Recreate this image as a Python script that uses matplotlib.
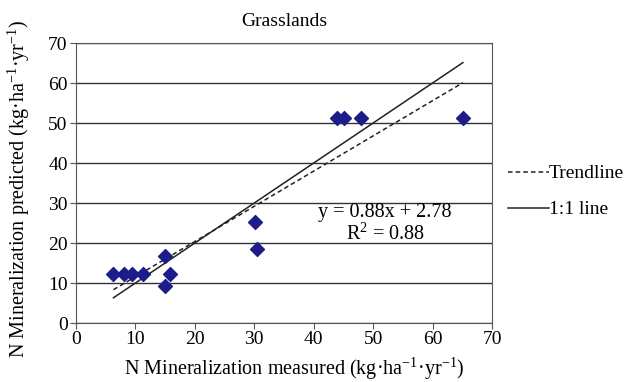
import matplotlib
matplotlib.use('Agg')
import numpy as np
import matplotlib.pyplot as plt

# measured vs predicted N mineralization (kg/ha/yr)
measured = [6.3, 8.0, 9.4, 11.3, 14.9, 14.9, 15.8, 30.1, 30.5, 43.9, 45.1, 48.0, 65.1]
predicted = [12.2, 12.2, 12.2, 12.2, 16.8, 9.2, 12.2, 25.3, 18.5, 51.2, 51.2, 51.2, 51.2]
slope = 0.88
intercept = 2.78
r2 = 0.88
x_ticks = [0, 10, 20, 30, 40, 50, 60, 70]
y_ticks = [0, 10, 20, 30, 40, 50, 60, 70]

plt.rcParams['font.family'] = ['Liberation Serif', 'DejaVu Serif']
plt.rcParams['mathtext.fontset'] = 'custom'
plt.rcParams['mathtext.rm'] = 'Liberation Serif'
plt.rcParams['font.size'] = 14

fig = plt.figure(figsize=(6.39, 3.82), dpi=100)
ax = fig.add_axes([76 / 639, 59 / 382, 416 / 639, 280 / 382])

xs = np.array([min(measured), max(measured)])
ax.plot(xs, slope * xs + intercept, color='#222222', linestyle=(0, (3, 2)), linewidth=1.1, label='Trendline')
ax.plot(xs, xs, color='#222222', linestyle='-', linewidth=1.1, label='1:1 line')
ax.scatter(measured, predicted, marker='D', s=50, color='#1c1c8a', zorder=3)

ax.set_xlim(0, 70)
ax.set_ylim(0, 70)
ax.set_xticks(x_ticks)
ax.set_yticks(y_ticks)
ax.yaxis.grid(True, color='#333333', linewidth=1.0)
ax.set_axisbelow(True)
for s in ax.spines.values():
    s.set_color('#555555')
ax.tick_params(direction='out', length=4, color='#555555', labelsize=14, pad=2)

ax.text(52, 27.7, 'y = 0.88x + 2.78', ha='center', va='center', fontsize=14.5)
ax.text(52, 22.4, 'R$^{2}$ = 0.88', ha='center', va='center', fontsize=14.5)

ax.set_title('Grasslands', fontsize=14, pad=12)
ax.set_xlabel('N Mineralization measured (kg·ha$^{-1}$·yr$^{-1}$)', fontsize=14.5, labelpad=2)
ax.xaxis.set_label_coords(0.525, -0.115)
ax.set_ylabel('N Mineralization predicted (kg·ha$^{-1}$·yr$^{-1}$)', fontsize=14.5)
ax.yaxis.set_label_coords(-0.105, 0.48)

ax.legend(loc='upper left', bbox_to_anchor=(1.038, 0.565), frameon=False, borderpad=0,
          handlelength=2.1, handletextpad=0.0, labelspacing=0.95, fontsize=14, borderaxespad=0)

plt.savefig('out.png', dpi=100)
